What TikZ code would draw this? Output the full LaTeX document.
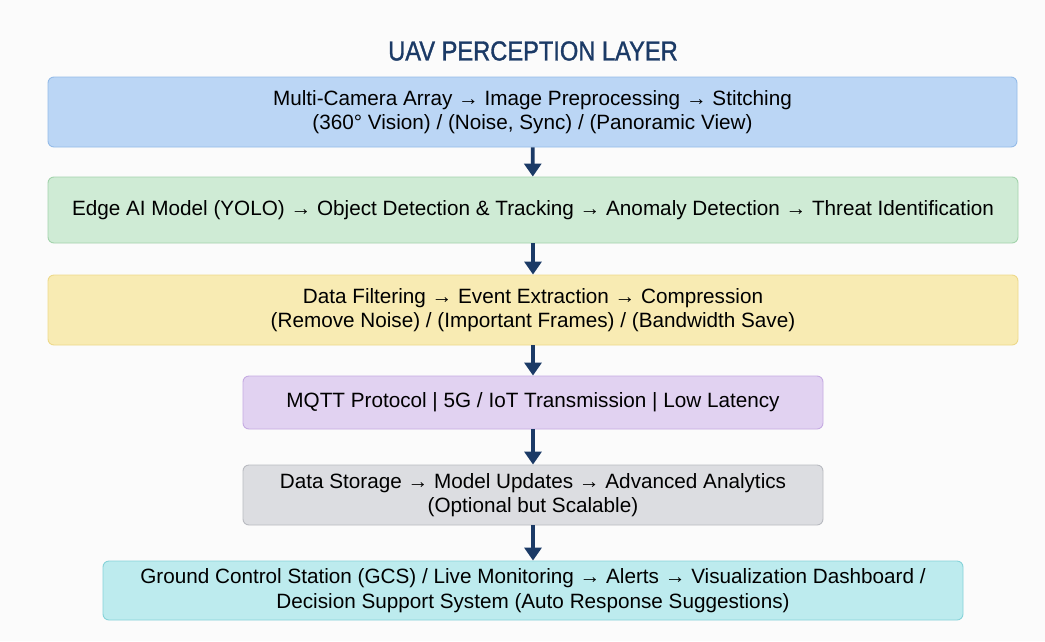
\documentclass[tikz,border=0pt]{standalone}
\usepackage{fontspec}
\setmainfont{Liberation Sans}
\newfontfamily\narrowfont{Liberation Sans}[FakeStretch=0.86,FakeBold=1.2]
\usepackage{tikz}
\usetikzlibrary{arrows.meta}

\definecolor{navy}{HTML}{1B3A66}
\definecolor{bluefill}{HTML}{BBD6F5}
\definecolor{blueline}{HTML}{94BBE8}
\definecolor{greenfill}{HTML}{CFEBD5}
\definecolor{greenline}{HTML}{A3D3AC}
\definecolor{yellowfill}{HTML}{F8EBB3}
\definecolor{yellowline}{HTML}{EDD98A}
\definecolor{purplefill}{HTML}{E1D2F1}
\definecolor{purpleline}{HTML}{C5ABE2}
\definecolor{grayfill}{HTML}{DCDDE1}
\definecolor{grayline}{HTML}{B9BBC1}
\definecolor{cyanfill}{HTML}{BDEBEE}
\definecolor{cyanline}{HTML}{86D3D9}

\tikzset{
  layer/.style={draw, line width=0.9pt, rounded corners=6pt, align=center,
    font=\fontsize{20.7}{24.5}\selectfont, text=black, inner sep=0pt},
  flow/.style={-{Triangle[width=17pt,length=13pt]}, line width=3.8pt, draw=navy},
}

\begin{document}
\begin{tikzpicture}[x=1pt,y=-1pt]
    \fill[white!97!gray] (0,0) rectangle (1045,641);
    \useasboundingbox (0,0) rectangle (1045,641);

    \node(title) at (533,51) {\narrowfont\fontsize{27.5}{30}\selectfont\color{navy}UAV PERCEPTION LAYER};

    \node[layer, fill=bluefill, draw=blueline, minimum width=969pt, minimum height=70pt](cam) at (532.5,112)
      {Multi-Camera Array → Image Preprocessing → Stitching\\(360° Vision) / (Noise, Sync) / (Panoramic View)};
    \node[layer, fill=greenfill, draw=greenline, minimum width=970pt, minimum height=66pt](edge) at (533,210)
      {Edge AI Model (YOLO) → Object Detection \& Tracking → Anomaly Detection → Threat Identification};
    \node[layer, fill=yellowfill, draw=yellowline, minimum width=970pt, minimum height=70pt](filt) at (533,310)
      {Data Filtering → Event Extraction → Compression\\(Remove Noise) / (Important Frames) / (Bandwidth Save)};
    \node[layer, fill=purplefill, draw=purpleline, minimum width=580pt, minimum height=53pt](mqtt) at (533,402.5)
      {MQTT Protocol | 5G / IoT Transmission | Low Latency};
    \node[layer, fill=grayfill, draw=grayline, minimum width=580pt, minimum height=60pt](store) at (533,495)
      {Data Storage → Model Updates → Advanced Analytics\\(Optional but Scalable)};
    \node[layer, fill=cyanfill, draw=cyanline, minimum width=860pt, minimum height=59pt](gcs) at (533,590.5)
      {Ground Control Station (GCS) / Live Monitoring → Alerts → Visualization Dashboard /\\Decision Support System (Auto Response Suggestions)};

    \draw[flow] (cam) -- (edge);
    \draw[flow] (edge) -- (filt);
    \draw[flow] (filt) -- (mqtt);
    \draw[flow] (mqtt) -- (store);
    \draw[flow] (store) -- (gcs);
\end{tikzpicture}
\end{document}
